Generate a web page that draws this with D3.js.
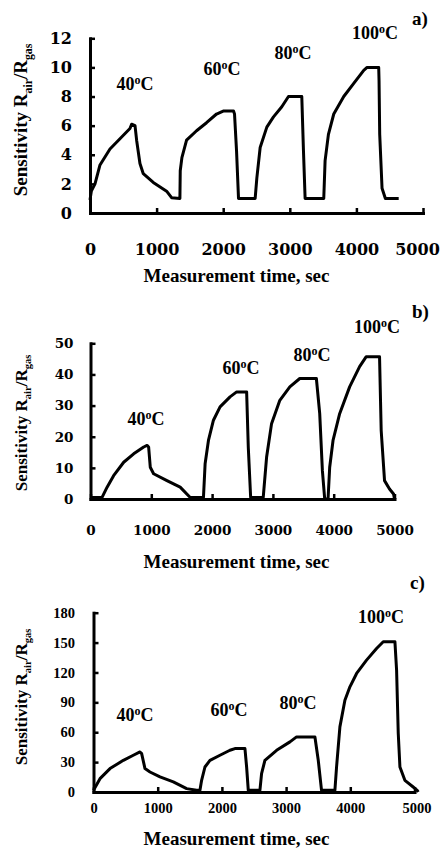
<!DOCTYPE html>
<html>
<head>
<meta charset="utf-8">
<script src="https://cdn.jsdelivr.net/npm/d3@7"></script>
<style>
  body { margin: 0; background: #fff; }
  svg text { font-family: "Liberation Serif", "Times New Roman", serif; font-weight: bold; fill: #000; }
</style>
</head>
<body>
<svg id="chart"></svg>
<script>
// panel a) - readings taken off the figure
const timeA = [0, 20, 75, 150, 300, 450, 600, 625, 676, 700, 750, 800, 950, 1150, 1225, 1350,
  1355, 1380, 1450, 1600, 1750, 1900, 2000, 2155, 2170, 2200, 2230, 2480,
  2505, 2555, 2655, 2755, 2880, 2980, 3180, 3205, 3230, 3510,
  3530, 3580, 3660, 3810, 3960, 4110, 4160, 4335, 4340, 4350, 4385, 4435, 4635];
const sensA = [0.9, 1.5, 2.0, 3.3, 4.4, 5.1, 5.8, 6.1, 6.0, 5.0, 3.4, 2.7, 2.1, 1.5, 1.05, 1.0,
  2.9, 3.8, 5.0, 5.65, 6.2, 6.8, 7.0, 7.0, 6.8, 4.3, 1.0, 1.0,
  2.4, 4.5, 5.9, 6.6, 7.3, 8.0, 8.0, 4.3, 1.0, 1.0,
  3.6, 5.4, 6.8, 8.0, 8.9, 9.8, 10.0, 10.0, 9.1, 5.4, 1.7, 1.0, 1.0];

// panel b)
const timeB = [0, 190, 273, 380, 546, 710, 875, 930, 956, 983, 1038, 1257, 1475, 1640, 1858,
  1885, 1940, 2022, 2131, 2295, 2404, 2568, 2595, 2634, 2841,
  2896, 2978, 3114, 3278, 3442, 3715, 3770, 3814, 3852, 3907,
  3934, 3989, 4098, 4262, 4426, 4535, 4754, 4781, 4836, 4918, 4985, 5000];
const sensB = [0.5, 0.5, 3.8, 7.5, 11.8, 14.5, 16.7, 17.2, 16.7, 10.2, 8.1, 5.9, 3.8, 0.5, 0.5,
  11.3, 18.8, 25.3, 29.6, 32.8, 34.4, 34.4, 16.7, 0.5, 0.5,
  13.4, 24.2, 31.7, 36, 38.7, 38.7, 27.4, 9.1, 0, 0,
  10.2, 18.8, 27.4, 36, 42.5, 45.7, 45.7, 22, 5.9, 3.2, 1.6, 0];

// panel c)
const timeC = [0, 101, 257, 465, 620, 724, 750, 802, 880, 1036, 1243, 1451, 1606, 1658,
  1684, 1736, 1814, 1970, 2125, 2203, 2359, 2385, 2411, 2592,
  2618, 2670, 2852, 3060, 3163, 3449, 3501, 3552, 3760,
  3786, 3838, 3916, 3994, 4098, 4253, 4409, 4513, 4695, 4721, 4747, 4773, 4850, 4980, 5042, 5058];
const sensC = [1.7, 13.4, 23.5, 31.8, 36.9, 40.2, 38.5, 23.5, 20.1, 15.1, 10.1, 3.4, 1.7, 1.7,
  11.7, 25.1, 31.8, 36.9, 41.9, 43.6, 43.6, 25.1, 1.7, 1.7,
  18.4, 31.8, 41.9, 50.3, 55.3, 55.3, 31.8, 1.7, 1.7,
  25.1, 65.4, 92.2, 105.6, 119.0, 132.4, 144.1, 150.9, 150.9, 122.4, 58.7, 25.1, 11.7, 5.0, 1.7, 0];

const xTicks = [0, 1000, 2000, 3000, 4000, 5000];
const yTicksA = [0, 2, 4, 6, 8, 10, 12];
const yTicksB = [0, 10, 20, 30, 40, 50];
const yTicksC = [0, 30, 60, 90, 120, 150, 180];
const temps = ["40", "60", "80", "100"];
const tags = ["a)", "b)", "c)"];
const xTitle = "Measurement time, sec";

const width = 443;
const height = 856;

const svg = d3.select("#chart")
  .attr("width", width)
  .attr("height", height)
  .style("background", "#fff");

const panels = [
  {
    time: timeA, sens: sensA, yTicks: yTicksA, tag: tags[0],
    x0: 90, x1: 423, y0: 213, y1: 38.3,
    tickFont: "DejaVu Serif", tickSize: 16, xPad: 30.6, yPad: 18, lastShift: -6,
    xTitleY: 282, yTitleX: 27, yTitleY: 120, yTitleSize: 19,
    tagPos: [412, 25],
    tempPos: [[135, 90], [222, 75], [293, 59], [375, 39]]
  },
  {
    time: timeB, sens: sensB, yTicks: yTicksB, tag: tags[1],
    x0: 90.5, x1: 394.5, y0: 499, y1: 343.3,
    tickFont: "DejaVu Serif", tickSize: 13.5, xPad: 26.4, yPad: 17, lastShift: 0,
    xTitleY: 568, yTitleX: 27, yTitleY: 423, yTitleSize: 17,
    tagPos: [412, 318],
    tempPos: [[146, 425], [241, 374], [312, 361], [377, 333]]
  },
  {
    time: timeC, sens: sensC, yTicks: yTicksC, tag: tags[2],
    x0: 93.5, x1: 414.5, y0: 792, y1: 612.7,
    tickFont: "Liberation Serif", tickSize: 14.5, xPad: 10.7, yPad: 18.5, lastShift: 2,
    xTitleY: 845, yTitleX: 27, yTitleY: 697, yTitleSize: 17,
    tagPos: [410, 589],
    tempPos: [[135, 721], [229, 716], [298, 709], [381, 623]]
  }
];

panels.forEach(drawPanel);

function drawPanel(p) {
  const g = svg.append("g");

  const xScale = d3.scaleLinear()
    .domain([0, 5000])
    .range([p.x0, p.x1]);

  const yScale = d3.scaleLinear()
    .domain([0, d3.max(p.yTicks)])
    .range([p.y0, p.y1]);

  const xAxis = d3.axisBottom(xScale)
    .tickValues(xTicks)
    .tickFormat(d3.format("d"))
    .tickSizeInner(-5)
    .tickSizeOuter(0)
    .tickPadding(p.xPad);

  const yAxis = d3.axisLeft(yScale)
    .tickValues(p.yTicks)
    .tickFormat(d3.format("d"))
    .tickSizeInner(-5)
    .tickSizeOuter(0)
    .tickPadding(p.yPad);

  const xg = g.append("g")
    .attr("transform", `translate(0, ${p.y0})`)
    .call(xAxis);

  const yg = g.append("g")
    .attr("transform", `translate(${p.x0}, 0)`)
    .call(yAxis);

  [xg, yg].forEach(ax => {
    ax.attr("font-family", p.tickFont).attr("font-size", p.tickSize);
    ax.select(".domain").attr("stroke", "#000").attr("stroke-width", 3).attr("stroke-linecap", "square");
    ax.selectAll(".tick line").attr("stroke", "#000").attr("stroke-width", 2.5);
    ax.selectAll(".tick text")
      .style("font-family", `"${p.tickFont}", serif`)
      .style("font-weight", "bold")
      .style("font-size", p.tickSize + "px")
      .attr("fill", "#000");
  });

  // the last x label sits a little off its tick in the figure
  xg.selectAll(".tick text").filter(d => d === 5000).attr("x", p.lastShift);

  const line = d3.line()
    .x(d => xScale(d[0]))
    .y(d => yScale(d[1]));

  g.append("path")
    .datum(d3.zip(p.time, p.sens))
    .attr("fill", "none")
    .attr("stroke", "#000")
    .attr("stroke-width", 3)
    .attr("stroke-linejoin", "round")
    .attr("d", line);

  // temperature labels, superscript o
  temps.forEach((t, i) => {
    const txt = g.append("text")
      .attr("x", p.tempPos[i][0])
      .attr("y", p.tempPos[i][1])
      .attr("text-anchor", "middle")
      .style("font-size", "18px");
    txt.append("tspan").text(t);
    txt.append("tspan").attr("dy", -6).style("font-size", "12px").text("o");
    txt.append("tspan").attr("dy", 6).text("C");
  });

  g.append("text")
    .attr("x", p.tagPos[0])
    .attr("y", p.tagPos[1])
    .style("font-size", "19px")
    .text(p.tag);

  g.append("text")
    .attr("x", 236.5)
    .attr("y", p.xTitleY)
    .attr("text-anchor", "middle")
    .style("font-size", "19px")
    .text(xTitle);

  const s = p.yTitleSize;
  const yt = g.append("text")
    .attr("transform", `translate(${p.yTitleX}, ${p.yTitleY}) rotate(-90)`)
    .attr("text-anchor", "middle")
    .style("font-size", s + "px");
  yt.append("tspan").text("Sensitivity R");
  yt.append("tspan").attr("dy", s * 0.25).style("font-size", (s * 0.62) + "px").text("air");
  yt.append("tspan").attr("dy", -s * 0.25).text("/R");
  yt.append("tspan").attr("dy", s * 0.25).style("font-size", (s * 0.62) + "px").text("gas");
}
</script>
</body>
</html>
